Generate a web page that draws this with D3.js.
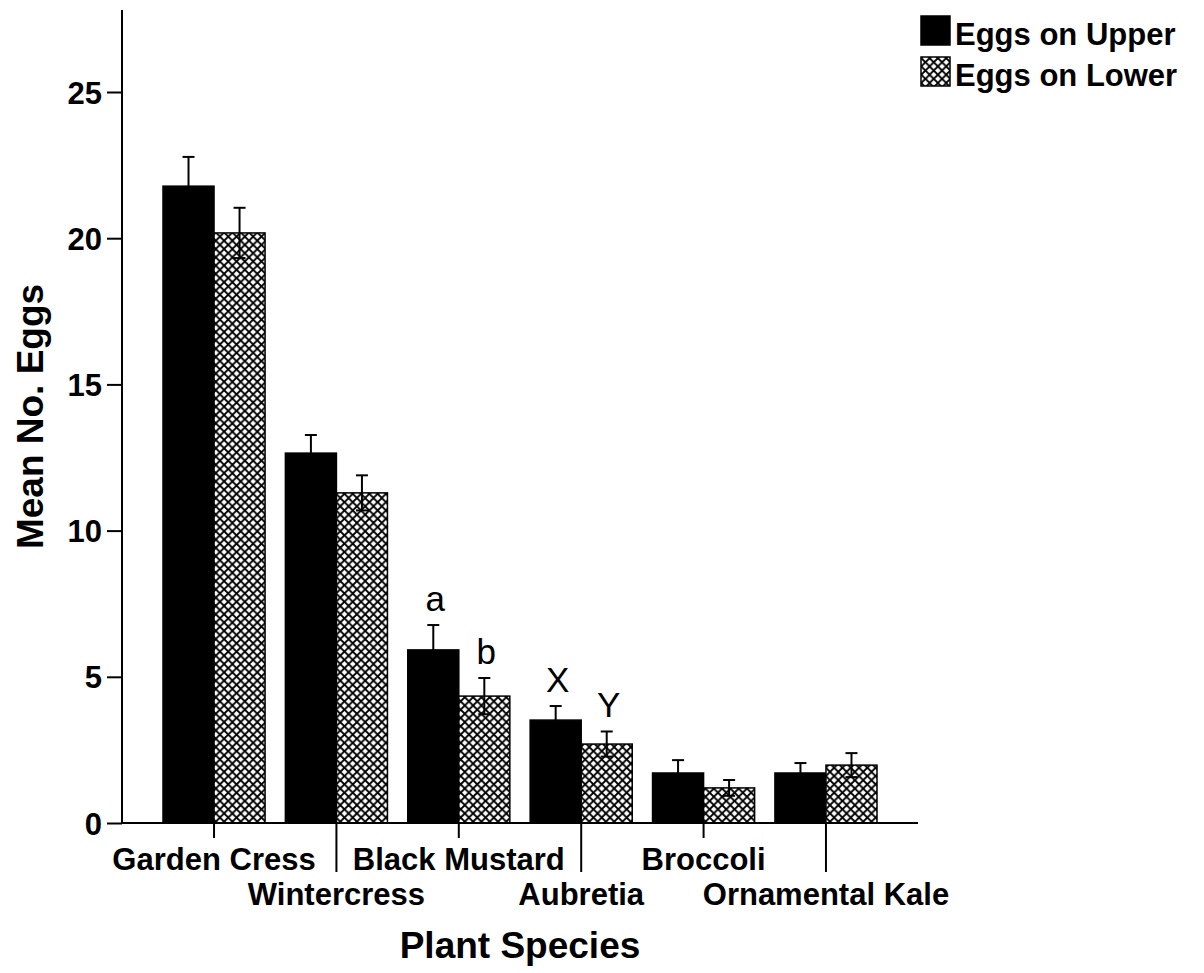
<!DOCTYPE html>
<html><head><meta charset="utf-8">
<script src="https://cdn.jsdelivr.net/npm/d3@7"></script>
<style>
html,body{margin:0;padding:0;background:#fff;}
text{font-family:"Liberation Sans",Arial,sans-serif;}
</style></head>
<body>
<svg id="chart" width="1204" height="973"></svg>
<script>
const categories = ["Garden Cress","Wintercress","Black Mustard","Aubretia","Broccoli","Ornamental Kale"];
const seriesNames = ["Eggs on Upper","Eggs on Lower"];
const upperMeans = [21.78, 12.65, 5.92, 3.52, 1.71, 1.71];
const upperErr   = [1.00, 0.62, 0.85, 0.48, 0.44, 0.34];
const lowerMeans = [20.18, 11.29, 4.34, 2.70, 1.20, 1.98];
const lowerErr   = [0.86, 0.60, 0.62, 0.43, 0.27, 0.41];
const yTicks = [0, 5, 10, 15, 20, 25];
const annotations = [
  {cat:"Black Mustard", series:0, label:"a"},
  {cat:"Black Mustard", series:1, label:"b"},
  {cat:"Aubretia", series:0, label:"X"},
  {cat:"Aubretia", series:1, label:"Y"}
];

const svg = d3.select("#chart");
const mLeft = 122, mRight = 918, mTop = 10, mBottom = 823;

const y = d3.scaleLinear().domain([0, 25]).range([mBottom, 92]);
const x = d3.scalePoint().domain(categories).range([mLeft, mRight]).padding(0.752);
const barW = x.step() * 0.417;

// pattern
const defs = svg.append("defs");
const ps = 8.3;
const pat = defs.append("pattern").attr("id","hatch").attr("patternUnits","userSpaceOnUse")
  .attr("width", ps).attr("height", ps);
pat.append("rect").attr("width", ps).attr("height", ps).attr("fill","#fff");
pat.append("path").attr("d", `M0,0L${ps},${ps}M0,${ps}L${ps},0`)
  .attr("stroke","#000").attr("stroke-width",1.8).attr("fill","none");

const data = [];
categories.forEach((c,i)=>{
  data.push({cat:c, s:0, v:upperMeans[i], e:upperErr[i]});
  data.push({cat:c, s:1, v:lowerMeans[i], e:lowerErr[i]});
});
const bx = d => d.s === 0 ? x(d.cat) - barW : x(d.cat);

// bars
svg.append("g").selectAll("rect").data(data).join("rect")
  .attr("x", bx).attr("width", barW)
  .attr("y", d => y(d.v)).attr("height", d => y(0) - y(d.v))
  .attr("fill", d => d.s === 0 ? "#000" : "url(#hatch)")
  .attr("stroke", "#000").attr("stroke-width", 1.5);

// error bars
const eg = svg.append("g").attr("stroke","#000").attr("stroke-width",2);
data.forEach(d=>{
  const cx = bx(d) + barW/2;
  eg.append("line").attr("x1",cx).attr("x2",cx).attr("y1",y(d.v - d.e)).attr("y2",y(d.v + d.e));
  eg.append("line").attr("x1",cx-6).attr("x2",cx+6).attr("y1",y(d.v + d.e)).attr("y2",y(d.v + d.e));
  eg.append("line").attr("x1",cx-6).attr("x2",cx+6).attr("y1",y(d.v - d.e)).attr("y2",y(d.v - d.e));
});

// y axis
const yAxis = d3.axisLeft(y).tickValues(yTicks).tickSize(15).tickPadding(5);
const gy = svg.append("g").attr("transform",`translate(${mLeft},0)`).call(yAxis);
gy.select(".domain").remove();
gy.selectAll(".tick line").attr("stroke","#000").attr("stroke-width",2);
gy.selectAll(".tick text").attr("font-size",31).attr("font-weight","bold").attr("fill","#000")
  .attr("font-family","'Liberation Sans',Arial,sans-serif").attr("dy","0.36em");
svg.append("line").attr("x1",mLeft).attr("x2",mLeft).attr("y1",mTop).attr("y2",mBottom+1).attr("stroke","#000").attr("stroke-width",2);

// x axis
svg.append("line").attr("x1",mLeft).attr("x2",mRight).attr("y1",mBottom).attr("y2",mBottom).attr("stroke","#000").attr("stroke-width",2);
const gx = svg.append("g");
categories.forEach((c,i)=>{
  const row = i % 2;
  gx.append("line").attr("x1",x(c)).attr("x2",x(c)).attr("y1",mBottom).attr("y2", row ? 872 : 838)
    .attr("stroke","#000").attr("stroke-width",2);
  gx.append("text").attr("x",x(c)).attr("y", row ? 905 : 870).attr("text-anchor","middle")
    .attr("font-size",31).attr("font-weight","bold").text(c);
});

// annotations
annotations.forEach(a=>{
  const i = categories.indexOf(a.cat);
  const v = a.series === 0 ? upperMeans[i] + upperErr[i] : lowerMeans[i] + lowerErr[i];
  const cx = a.series === 0 ? x(a.cat) - barW/2 : x(a.cat) + barW/2;
  svg.append("text").attr("x", cx + 2).attr("y", y(v) - 14).attr("text-anchor","middle")
    .attr("font-size",35).text(a.label);
});

// axis titles
svg.append("text").attr("x",(mLeft+mRight)/2).attr("y",958).attr("text-anchor","middle")
  .attr("font-size",37).attr("font-weight","bold").text("Plant Species");
svg.append("text").attr("transform",`translate(43,${(mTop+mBottom)/2}) rotate(-90)`).attr("text-anchor","middle")
  .attr("font-size",37).attr("font-weight","bold").text("Mean No. Eggs");

// legend
const lg = svg.append("g");
seriesNames.forEach((s,i)=>{
  lg.append("rect").attr("x",921).attr("y", 16 + i*41).attr("width",29).attr("height",29)
    .attr("fill", i === 0 ? "#000" : "url(#hatch)").attr("stroke","#000").attr("stroke-width",1.5);
  lg.append("text").attr("x",955).attr("y", 45 + i*41).attr("font-size",31).attr("font-weight","bold").text(s);
});
</script>
</body></html>
